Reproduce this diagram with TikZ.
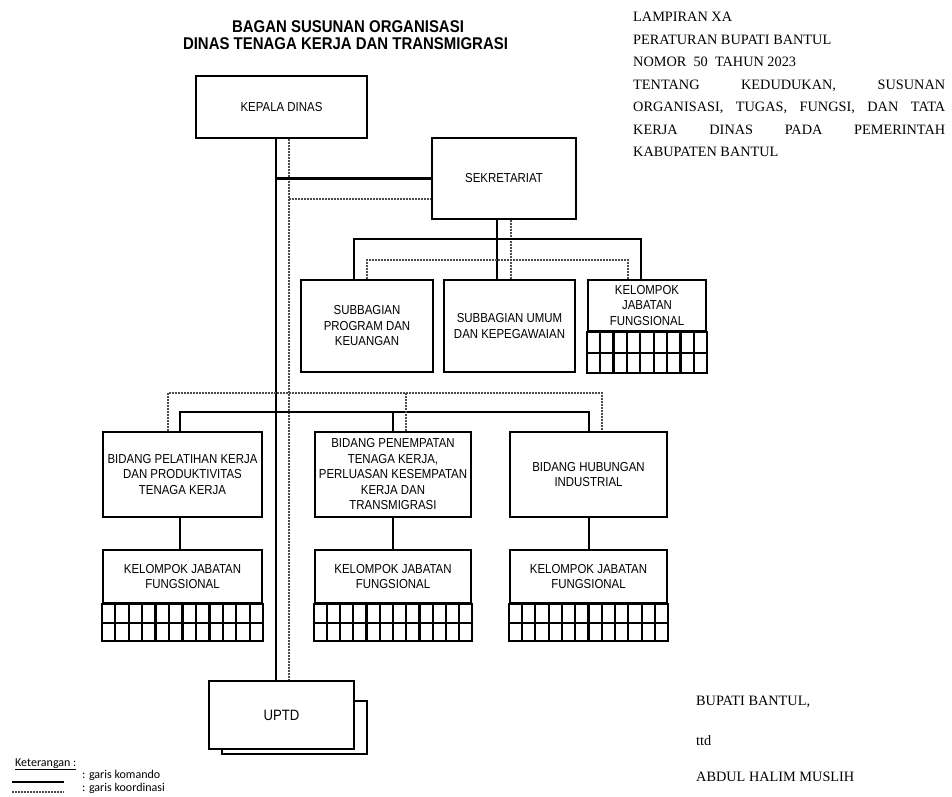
\documentclass[tikz,border=0pt]{standalone}
\usepackage{fontspec}
\usetikzlibrary{calc}
\setmainfont{Liberation Sans}
\newfontfamily\boxfont{Liberation Sans}[FakeStretch=0.88]
\newfontfamily\rserif{Liberation Serif}
\newfontfamily\legfont{Carlito}
\begin{document}
\begin{tikzpicture}[x=1pt,y=-1pt,
  orgbox/.style={draw, line width=2.5pt, fill=white, align=center, inner sep=0pt,
    font=\boxfont\fontsize{13}{15.5}\selectfont},
  cmd/.style={line width=2.5pt},
  crd/.style={line width=1.2pt, black!70, dash pattern=on 1.5pt off 1.5pt},
  gridl/.style={line width=2.2pt},
  doctext/.style={anchor=base west, inner sep=0pt, font=\rserif\fontsize{14.3}{22.5}\selectfont},
  titletext/.style={anchor=base, inner sep=0pt, font=\boxfont\bfseries\fontsize{17}{20}\selectfont},
  legtext/.style={anchor=base west, inner sep=0pt, font=\legfont\fontsize{12}{14}\selectfont}]
\useasboundingbox (0,0) rectangle (952,796);

% titles
\node[titletext] (t1) at (348,32.8) {BAGAN SUSUNAN ORGANISASI};
\node[titletext] (t2) at (345.5,49.8) {DINAS TENAGA KERJA DAN TRANSMIGRASI};

% document header
\node[doctext] (h1) at (633,21.6) {LAMPIRAN XA};
\node[doctext] (h2) at (633,44.1) {PERATURAN BUPATI BANTUL};
\node[doctext] (h3) at (633,66.6) {NOMOR\ \ 50\ \ TAHUN 2023};
\node[doctext] (h4) at (633,89.1) {\makebox[312pt][s]{TENTANG KEDUDUKAN, SUSUNAN}};
\node[doctext] (h5) at (633,111.6) {\makebox[312pt][s]{ORGANISASI, TUGAS, FUNGSI, DAN TATA}};
\node[doctext] (h6) at (633,134.1) {\makebox[312pt][s]{KERJA DINAS PADA PEMERINTAH}};
\node[doctext] (h7) at (633,156.6) {KABUPATEN BANTUL};

% signature
\node[doctext] (g1) at (696,705.6) {BUPATI BANTUL,};
\node[doctext] (g2) at (696,745) {ttd};
\node[doctext] (g3) at (696,781.6) {ABDUL HALIM MUSLIH};

% boxes
\node[orgbox, minimum width=171pt, minimum height=62pt] (kd) at (281.5,107) {KEPALA DINAS};
\node[orgbox, minimum width=144pt, minimum height=81pt] (sek) at (504,178.5) {SEKRETARIAT};
\node[orgbox, minimum width=132pt, minimum height=92pt] (s1) at (367,326) {SUBBAGIAN\\PROGRAM DAN\\KEUANGAN};
\node[orgbox, minimum width=131pt, minimum height=92pt] (s2) at (509.5,326) {SUBBAGIAN UMUM\\DAN KEPEGAWAIAN};
\node[orgbox, minimum width=118pt, minimum height=51pt] (s3) at (647,305.5) {KELOMPOK\\JABATAN\\FUNGSIONAL};

\node[orgbox, minimum width=159pt, minimum height=85pt] (b1) at (182.5,474.5) {BIDANG PELATIHAN KERJA\\DAN PRODUKTIVITAS\\TENAGA KERJA};
\node[orgbox, minimum width=156pt, minimum height=85pt] (b2) at (393,474.5) {BIDANG PENEMPATAN\\TENAGA KERJA,\\PERLUASAN KESEMPATAN\\KERJA DAN\\TRANSMIGRASI};
\node[orgbox, minimum width=157pt, minimum height=85pt] (b3) at (588.5,474.5) {BIDANG HUBUNGAN\\INDUSTRIAL};

\node[orgbox, minimum width=159pt, minimum height=53pt] (k1) at (182.5,576.5) {KELOMPOK JABATAN\\FUNGSIONAL};
\node[orgbox, minimum width=156pt, minimum height=53pt] (k2) at (393,576.5) {KELOMPOK JABATAN\\FUNGSIONAL};
\node[orgbox, minimum width=157pt, minimum height=53pt] (k3) at (588.5,576.5) {KELOMPOK JABATAN\\FUNGSIONAL};

\node[orgbox, minimum width=145pt, minimum height=53pt] (uptdb) at (294.5,727.5) {};
\node[orgbox, minimum width=145pt, minimum height=68pt, font=\boxfont\fontsize{15}{17}\selectfont] (uptd) at (281.5,715) {UPTD};

% grids
\draw[gridl] (s3.south west) rectangle ([yshift=-41pt]s3.south east);
\draw[gridl] ([yshift=-20.5pt]s3.south west) -- ([yshift=-20.5pt]s3.south east);
\foreach \i in {1,...,8}
  \draw[gridl] ($(s3.south west)!\i/9!(s3.south east)$) -- ++(0,41);
\foreach \k in {k1,k2,k3}{
  \draw[gridl] (\k.south west) rectangle ([yshift=-37pt]\k.south east);
  \draw[gridl] ([yshift=-18.5pt]\k.south west) -- ([yshift=-18.5pt]\k.south east);
  \foreach \i in {1,...,11}
    \draw[gridl] ($(\k.south west)!\i/12!(\k.south east)$) -- ++(0,37);
}

% reference coordinates
\coordinate (tx) at (276,0);
\coordinate (tdx) at (289,0);
\coordinate (sx) at (497,0);
\coordinate (sdx) at (511,0);
\coordinate (hs) at (0,239);
\coordinate (hd) at (0,260);
\coordinate (bs) at (0,412);
\coordinate (bd) at (0,393);
\coordinate (d1) at (289,199);

% trunk
\draw[cmd] (kd.south -| tx) -- (uptd.north -| tx);
\draw[crd] (kd.south -| tdx) -- (uptd.north -| tdx);

% sekretariat
\draw[cmd] (sek.west -| tx) -- (sek.west);
\draw[crd] (d1) -- (d1 -| sek.west);
\draw[cmd] (sek.south -| sx) -- (s2.north -| sx);
\draw[crd] (sek.south -| sdx) -- (s2.north -| sdx);
\coordinate (c354) at (354,0);
\coordinate (c641) at (641,0);
\coordinate (c367) at (367,0);
\coordinate (c628) at (628,0);
\draw[cmd] (s1.north -| c354) -- (c354 |- hs) -- (c641 |- hs) -- (s3.north -| c641);
\draw[crd] (s1.north -| c367) -- (c367 |- hd) -- (c628 |- hd) -- (s3.north -| c628);

% bidang
\coordinate (c180) at (180,0);
\coordinate (c393) at (393,0);
\coordinate (c589) at (589,0);
\coordinate (c168) at (168,0);
\coordinate (c406) at (406,0);
\coordinate (c602) at (602,0);
\draw[cmd] (b1.north -| c180) -- (c180 |- bs) -- (c589 |- bs) -- (b3.north -| c589);
\draw[cmd] (c393 |- bs) -- (b2.north -| c393);
\draw[crd] (b1.north -| c168) -- (c168 |- bd) -- (c602 |- bd) -- (b3.north -| c602);
\draw[crd] (c406 |- bd) -- (b2.north -| c406);
\draw[cmd] (b1.south -| c180) -- (k1.north -| c180);
\draw[cmd] (b2.south -| c393) -- (k2.north -| c393);
\draw[cmd] (b3.south -| c589) -- (k3.north -| c589);

% legend
\node[legtext] (lg) at (15,766) {\underline{Keterangan :}};
\node[legtext] (lg1) at (82,778) {: garis komando};
\node[legtext] (lg2) at (82,791) {: garis koordinasi};
\coordinate (la) at (12,782);
\coordinate (lb) at (64,782);
\coordinate (lc) at (12,792);
\coordinate (ld) at (64,792);
\draw[cmd] (la) -- (lb);
\draw[crd] (lc) -- (ld);
\end{tikzpicture}
\end{document}
